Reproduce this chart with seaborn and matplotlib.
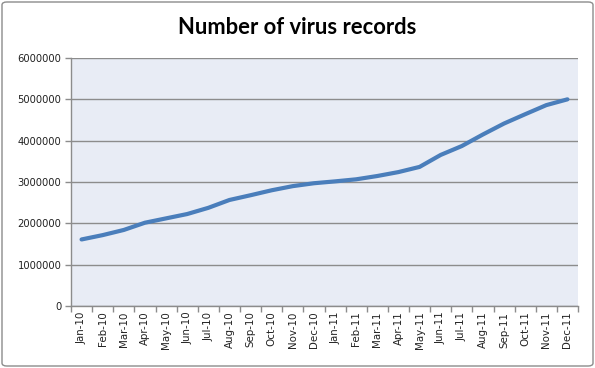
import matplotlib
matplotlib.use("Agg")
import matplotlib.pyplot as plt
import seaborn as sns
import pandas as pd
from matplotlib.patches import FancyBboxPatch
from matplotlib.ticker import FixedLocator, NullFormatter

months = ["Jan-10", "Feb-10", "Mar-10", "Apr-10", "May-10", "Jun-10", "Jul-10", "Aug-10",
          "Sep-10", "Oct-10", "Nov-10", "Dec-10", "Jan-11", "Feb-11", "Mar-11", "Apr-11",
          "May-11", "Jun-11", "Jul-11", "Aug-11", "Sep-11", "Oct-11", "Nov-11", "Dec-11"]
records = [1610000, 1715000, 1840000, 2015000, 2120000, 2225000, 2375000, 2565000,
           2680000, 2800000, 2900000, 2970000, 3015000, 3065000, 3145000, 3240000,
           3365000, 3655000, 3870000, 4150000, 4415000, 4640000, 4860000, 5000000]
yticks = [0, 1000000, 2000000, 3000000, 4000000, 5000000, 6000000]
title = "Number of virus records"

sns.set_theme(style="white")
plt.rcParams["font.family"] = ["DejaVu Sans"]

df = pd.DataFrame({"idx": range(len(months)), "month": months, "records": records})

fig = plt.figure(figsize=(5.95, 3.68), dpi=100)
ax = fig.add_axes([71/595, 1-306/368, (578-71)/595, (306-58)/368])
ax.set_facecolor("#E8ECF5")

sns.lineplot(data=df, x="idx", y="records", ax=ax, color="#4A7EBB", linewidth=3.0,
             solid_capstyle="round", solid_joinstyle="round")

ax.set_xlim(-0.5, len(months) - 0.5)
ax.set_ylim(0, 6000000)
ax.set_yticks(yticks)
ax.set_yticklabels([str(v) for v in yticks], fontsize=7.2, color="#222222")
ax.yaxis.grid(True, color="#8C8C8C", linewidth=1.0)
ax.set_axisbelow(True)

ax.set_xticks(range(len(months)))
ax.set_xticklabels(months, rotation=90, fontsize=7.4, color="#222222")
ax.tick_params(axis="x", which="major", length=0, pad=4)
ax.xaxis.set_minor_locator(FixedLocator([i - 0.5 for i in range(len(months) + 1)]))
ax.xaxis.set_minor_formatter(NullFormatter())
ax.tick_params(axis="x", which="minor", length=4, width=1, color="#8C8C8C", direction="out", bottom=True)
ax.tick_params(axis="y", which="major", length=4, width=1, color="#8C8C8C", direction="out", left=True, pad=3)

ax.set_xlabel("")
ax.set_ylabel("")
for s in ["top", "right"]:
    ax.spines[s].set_visible(False)
for s in ["left", "bottom"]:
    ax.spines[s].set_color("#8C8C8C")
    ax.spines[s].set_linewidth(1.0)

fig.text(0.5, 1 - 27/368, title, ha="center", va="center", fontsize=15.8,
         fontweight="bold", family=["Lato", "DejaVu Sans"], color="#000000")

border = FancyBboxPatch((2/595, 2/368), 591/595, 364/368, boxstyle="round,pad=0,rounding_size=0.008",
                        transform=fig.transFigure, facecolor="none", edgecolor="#8C8C8C",
                        linewidth=1.0)
fig.patches.append(border)

fig.savefig("out.png", dpi=100, facecolor="white")
